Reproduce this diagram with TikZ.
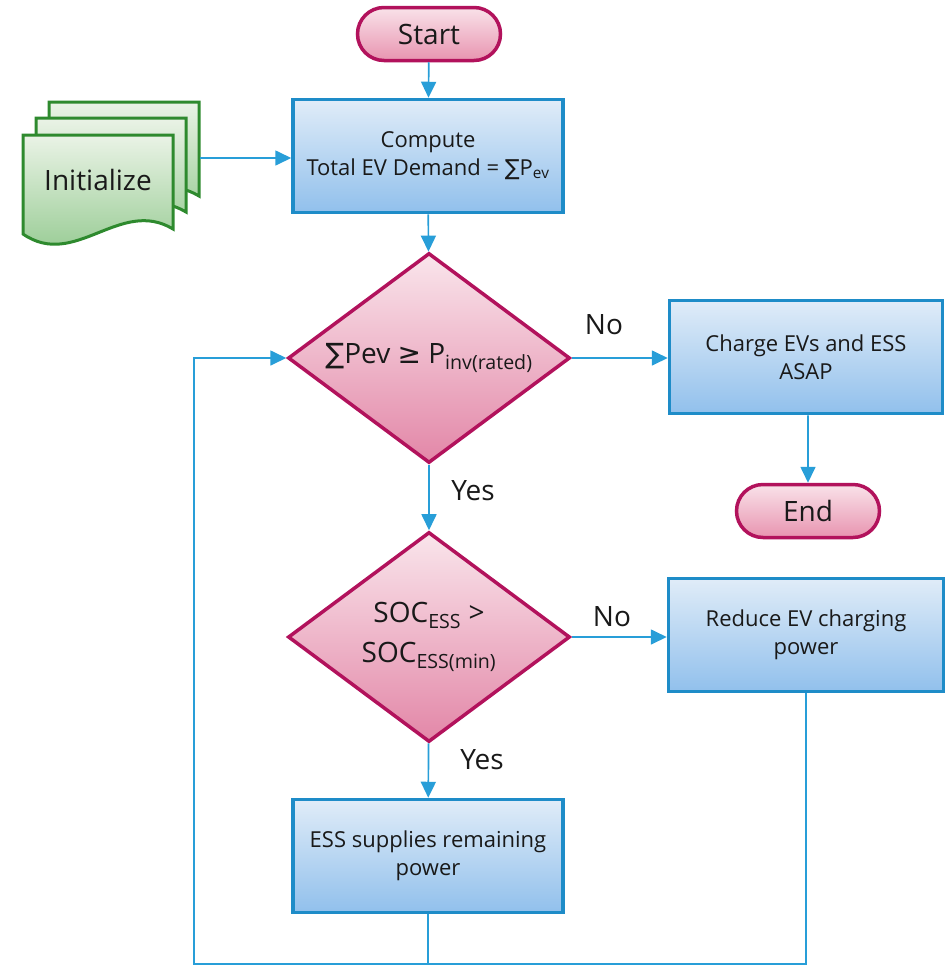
\documentclass[tikz,border=0pt]{standalone}
\usepackage{fontspec}
\setmainfont{Open Sans}
\newfontfamily\symfont{DejaVu Sans}
\usetikzlibrary{shapes.geometric,shapes.misc,arrows.meta}

\definecolor{lineblue}{RGB}{40,158,216}
\definecolor{boxedge}{RGB}{30,140,200}
\definecolor{boxtop}{RGB}{224,236,248}
\definecolor{boxbot}{RGB}{145,192,236}
\definecolor{crim}{RGB}{178,18,92}
\definecolor{pinktop}{RGB}{249,226,233}
\definecolor{pinkbot}{RGB}{232,148,176}
\definecolor{greenedge}{RGB}{46,138,46}
\definecolor{greentop}{RGB}{234,243,230}
\definecolor{greenbot}{RGB}{140,198,136}
\definecolor{ink}{RGB}{25,25,25}

\newcommand\sumsym{{\symfont ∑}}
\newcommand\gesym{{\symfont ≥}}

\begin{document}
\begin{tikzpicture}[x=1pt,y=-1pt,
  every node/.style={text=ink},
  bigtext/.style={font=\fontsize{28}{40}\selectfont},
  boxtext/.style={font=\fontsize{22}{28}\selectfont},
  procbox/.style={rectangle, draw=boxedge, line width=3.5pt,
    top color=boxtop, bottom color=boxbot,
    minimum width=270pt, minimum height=113pt, inner sep=0pt,
    align=center, boxtext},
  termbox/.style={rounded rectangle, draw=crim, line width=3.5pt,
    top color=pinktop, bottom color=pinkbot,
    minimum width=143pt, minimum height=53pt, inner sep=0pt, bigtext},
  decide/.style={diamond, draw=crim, line width=3.5pt,
    top color=pinktop!90!white, bottom color=pinkbot!90!crim,
    minimum width=282pt, minimum height=210pt, inner sep=0pt},
  decidetext/.style={align=center, bigtext, inner sep=0pt},
  docsheet/.style={draw=greenedge, line width=3pt,
    top color=greentop, bottom color=greenbot},
  flow/.style={draw=lineblue, line width=1.7pt,
    -{Triangle[width=15pt,length=16pt]}},
  plainflow/.style={draw=lineblue, line width=1.7pt},
  answer/.style={bigtext, inner sep=0pt}]

\useasboundingbox (0,0) rectangle (946,967);

% stacked documents of the initialisation step
\foreach \dx/\dy in {26/-33, 13/-17, 0/0} {
  \begin{scope}[shift={(\dx,\dy)}]
    \path[docsheet] (23,135) -- (173,135) -- (173,229)
      .. controls (120,197) and (75,270) .. (23,234) -- cycle;
  \end{scope}
}
\node[bigtext] (init) at (98,180) {Initialize};
\coordinate (initR) at (200,158);

% main column
\node[termbox] (start) at (429,34) {Start};
\node[procbox] (compute) at (428,156)
  {Compute\\Total EV Demand = \sumsym P\textsubscript{ev}};
\node[decide] (d1) at (429,358) {};
\node[decidetext] (d1text) at (d1.center)
  {\sumsym Pev \gesym{} P\textsubscript{inv(rated)}};
\node[decide] (d2) at (429,637) {};
\node[decidetext] (d2text) at (d2.center)
  {SOC\textsubscript{ESS} >\\SOC\textsubscript{ESS(min)}};
\node[procbox] (ess) at (428,856) {ESS supplies remaining\\power};

% right column
\node[procbox, minimum width=273pt] (charge) at (806,357)
  {Charge EVs and ESS\\ASAP};
\node[termbox] (stop) at (808,511) {End};
\node[procbox, minimum width=275pt] (reduce) at (806,635)
  {Reduce EV charging\\power};

% connectors
\draw[flow] (start) -- (compute);
\draw[flow] (initR) -- (initR -| compute.west);
\draw[flow] (compute) -- (d1);
\draw[flow] (d1) -- (charge.west |- d1.east);
\draw[flow] (charge.south -| stop.north) -- (stop);
\draw[flow] (d1) -- (d2);
\draw[flow] (d2) -- (reduce.west |- d2.east);
\draw[flow] (d2) -- (ess);

% feedback loop back to the first decision
\coordinate (loopBL) at (194,964);
\draw[plainflow] (reduce.south) |- (ess.south |- loopBL);
\draw[flow] (ess.south) |- (loopBL) |- (d1.west);

% branch labels
\node[answer] (no1) at (604,325) {No};
\node[answer] (yes1) at (473,491) {Yes};
\node[answer] (no2) at (612,617) {No};
\node[answer] (yes2) at (482,760) {Yes};

\end{tikzpicture}
\end{document}
